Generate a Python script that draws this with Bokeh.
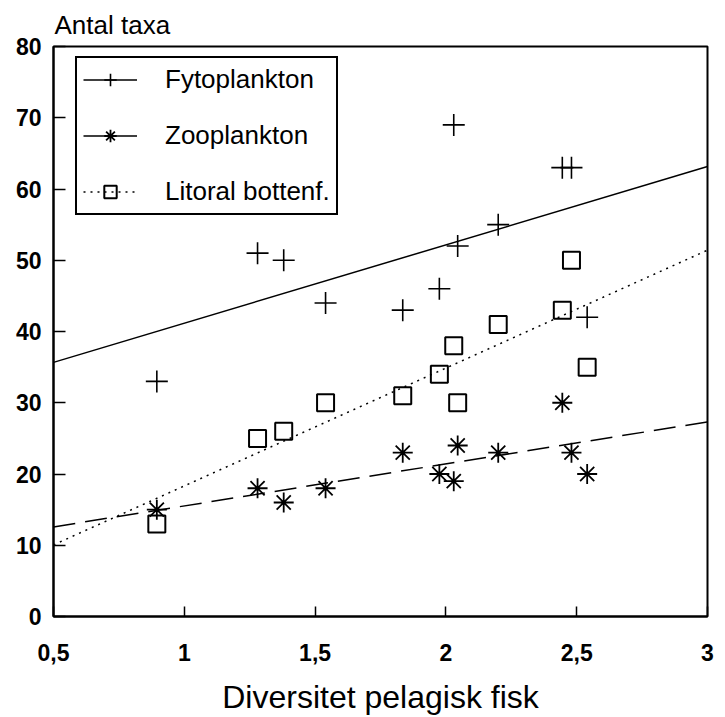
import numpy as np
from bokeh.plotting import figure
from bokeh.models import (Range1d, FixedTicker, Legend, LegendItem,
                          CustomJSTickFormatter)
from bokeh.embed import file_html
from bokeh.resources import INLINE

# Diversity of pelagic fish per lake, and number of taxa found in each group
diversitet = [0.895, 1.28, 1.38, 1.54, 1.835, 1.975, 2.03, 2.045, 2.2, 2.445, 2.48, 2.54]
fytoplankton = [33, 51, 50, 44, 43, 46, 69, 52, 55, 63, 63, 42]
zooplankton = [15, 18, 16, 18, 23, 20, 19, 24, 23, 30, 23, 20]
litoral = [13, 25, 26, 30, 31, 34, 38, 30, 41, 43, 50, 35]

series_names = ["Fytoplankton", "Zooplankton", "Litoral bottenf."]
x_ticks = [0.5, 1, 1.5, 2, 2.5, 3]
y_ticks = [0, 10, 20, 30, 40, 50, 60, 70, 80]

FONT = "Liberation Sans"

p = figure(width=725, height=717,
           x_range=Range1d(0.5, 3), y_range=Range1d(0, 80),
           output_backend="svg", toolbar_location=None,
           min_border_left=53, min_border_right=18,
           min_border_top=44, min_border_bottom=101)

p.title.text = "Antal taxa"
p.title.align = "left"
p.title.offset = 1
p.title.standoff = 14
p.title.text_font = FONT
p.title.text_font_size = "26px"
p.title.text_font_style = "normal"
p.title.text_color = "black"

p.xgrid.visible = False
p.ygrid.visible = False
p.outline_line_color = "black"
p.outline_line_width = 2
p.outline_line_alpha = 1
p.background_fill_color = "white"
p.border_fill_color = "white"

comma = CustomJSTickFormatter(code="return tick.toString().replace('.', ',');")

for ax in (p.xaxis[0], p.yaxis[0]):
    ax.axis_line_color = "black"
    ax.axis_line_width = 2
    ax.major_tick_line_color = "black"
    ax.major_tick_line_width = 1.5
    ax.major_tick_out = 0
    ax.minor_tick_line_color = None
    ax.major_label_text_font = FONT
    ax.major_label_text_font_size = "23px"
    ax.major_label_text_font_style = "bold"
    ax.major_label_text_color = "black"

p.xaxis.ticker = FixedTicker(ticks=x_ticks)
p.xaxis.formatter = comma
p.xaxis.major_tick_in = 10
p.xaxis.major_label_standoff = 27
p.xaxis.axis_label = "Diversitet pelagisk fisk"
p.xaxis.axis_label_text_font = FONT
p.xaxis.axis_label_text_font_size = "32px"
p.xaxis.axis_label_text_font_style = "normal"
p.xaxis.axis_label_text_color = "black"
p.xaxis.axis_label_standoff = 15

p.yaxis.ticker = FixedTicker(ticks=y_ticks)
p.yaxis.major_tick_in = 12
p.yaxis.major_label_standoff = 12

# least-squares regression line for each group
xs = np.array(diversitet, dtype=float)
x_line = np.array([0.5, 3.0])
styles = [
    dict(marker="cross", size=22, line_width=1.6, dash="solid"),
    dict(marker="asterisk", size=20, line_width=1.8, dash="22 10"),
    dict(marker="square", size=17, line_width=2, dash="2 5"),
]

items = []
for name, ys, st in zip(series_names, [fytoplankton, zooplankton, litoral], styles):
    k, m = np.polyfit(xs, np.array(ys, dtype=float), 1)
    ln = p.line(x_line, k * x_line + m, line_color="black", line_width=1.5,
                line_dash=st["dash"])
    sc = p.scatter(diversitet, ys, marker=st["marker"], size=st["size"],
                   line_color="black", line_width=st["line_width"],
                   fill_color=None)
    items.append(LegendItem(label=name, renderers=[ln, sc]))

legend = Legend(items=items, location=(22, 401),
                glyph_width=54, glyph_height=31, label_height=31,
                spacing=25, padding=6, label_standoff=28,
                border_line_color="black", border_line_width=2,
                border_line_alpha=1,
                background_fill_color="white", background_fill_alpha=1,
                label_text_font=FONT, label_text_font_size="26px",
                label_text_color="black")
p.add_layout(legend)

open("out.html", "w").write(file_html(p, INLINE))
